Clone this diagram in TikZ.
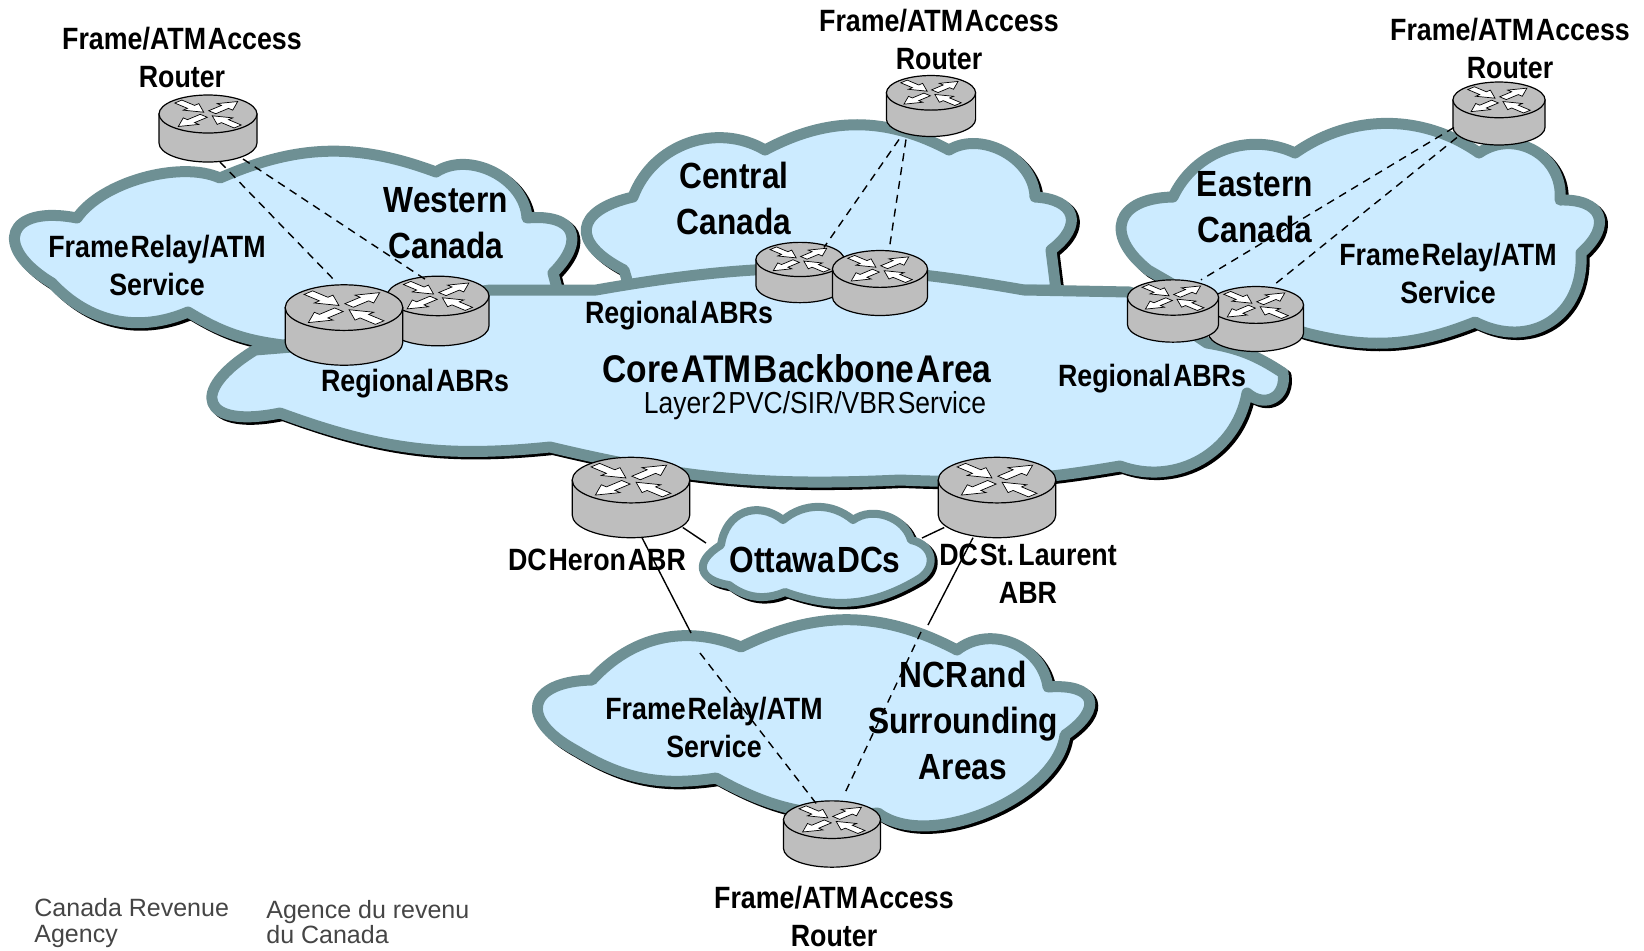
\documentclass[tikz,border=0pt]{standalone}
\usepackage{fontspec}
\setmainfont{Liberation Sans}
\setsansfont{Liberation Sans}
\newfontfamily\labelfont[FakeStretch=0.87,WordSpace=0.25]{Liberation Sans}
\definecolor{cloudfill}{HTML}{CCEBFF}
\definecolor{cloudedge}{HTML}{6E9094}
\definecolor{routergray}{HTML}{BEBEBE}
\definecolor{footgray}{HTML}{454545}

\tikzset{
  cloudshadow/.style = {draw=black, line join=round, shift={(3,2.5)}},
  cloudbody/.style = {draw=cloudedge, fill=cloudfill, line join=round},
  routerbox/.style = {inner sep=0pt, outer sep=0pt},
  routerline/.style = {draw=black, line width=.6pt},
  smalltext/.style = {font=\labelfont\bfseries\fontsize{15.4}{19}\selectfont, align=center, inner sep=0pt},
  bigtext/.style = {font=\labelfont\bfseries\fontsize{18.2}{23}\selectfont, align=center, inner sep=0pt},
  foottext/.style = {font=\fontsize{12.5}{12.6}\selectfont, text=footgray, align=left, anchor=west, inner sep=0pt},
  dashlink/.style = {draw=black, dashed, dash pattern=on 4pt off 3pt, line width=.7pt},
  solidlink/.style = {draw=black, line width=.7pt},
  routerface/.pic = {
    \path[routerline, fill=routergray] (-49,-14.5) -- (-49,14.5) arc[start angle=180, end angle=0, x radius=49, y radius=19] -- (49,-14.5) -- cycle;
    \path[routerline, fill=routergray] (0,-14.5) ellipse[x radius=49, y radius=19];
    \foreach \a in {45,-135} {
      \draw[fill=white, line width=.35pt, shift={(0,-14.5)}, yscale=.42, rotate=\a]
        (6,-5) -- (24,-5) -- (24,-11) -- (42,0) -- (24,11) -- (24,5) -- (6,5) -- cycle;
    }
    \foreach \a in {-45,135} {
      \draw[fill=white, line width=.35pt, shift={(0,-14.5)}, yscale=.42, rotate=\a]
        (42,-5) -- (24,-5) -- (24,-11) -- (6,0) -- (24,11) -- (24,5) -- (42,5) -- cycle;
    }
  }
}

% #1 width of the edge, #2 first point, #3 the next points as x/y/bend/looseness
\newcommand{\cloudblob}[3][5.5pt]{
  \path[cloudshadow, line width=#1] (#2) \foreach \x/\y/\b/\l in {#3} { to[bend left=\b, looseness=\l] (\x,\y) } -- cycle;
  \path[cloudbody, line width=#1] (#2) \foreach \x/\y/\b/\l in {#3} { to[bend left=\b, looseness=\l] (\x,\y) } -- cycle;
}
% #1 name, #2 x, #3 y, #4 size
\newcommand{\router}[4]{
  \node[routerbox, minimum width=#4*49pt, minimum height=#4*33.5pt] (#1) at (#2,#3) {};
  \pic[scale=#4] at (#1) {routerface};
}

\begin{document}
\begin{tikzpicture}[x=.5pt, y=-.5pt]
  \useasboundingbox (0,0) rectangle (1644,950);

  % regions
  \cloudblob{77,218}{220/178/40/.75, 436/172/22/1, 527/218/60/1, 553/273/70/2, 560/300/0/1, 283/345/0/1, 188/312/12/1, 52/283/35/1, 77/218/80/2.6}
  \cloudblob{633,197}{765/150/50/1.03, 949/150/28/1, 1035/197/60/1, 1051/250/70/1.9, 1056/290/0/1, 630/290/0/1, 624/270/0/1, 633/197/70/2.1}
  \cloudblob{1173,197}{1295/153/45/1, 1479/153/35/.96, 1560/200/65/1.2, 1581/253/70/1.9, 1475/322/60/1.27, 1306/333/18/1, 1200/300/0/1, 1148/270/0/1, 1173/197/70/1.9}
  \cloudblob{292,347}{490/290/8/1, 596/290/0/1, 1024/290/10/1, 1130/292/0/1, 1207/343/0/1, 1283/373/12/1, 1247/393/70/1.5, 1120/466/50/1.05, 900/480/6/1, 550/447/8/1, 280/413/13/1, 255/350/80/3, 292/347/0/1}
  \cloudblob{592,680}{741/647/35/1, 957/650/27/1, 1048/687/60/1.1, 1065/735/75/2.4, 878/813/60/.8, 716/778/17/1, 575/750/20/1, 592/680/75/2.3}
  \cloudblob[4pt]{721,545}{783/520/60/1.27, 853/520/40/1, 911/540/55/1, 917/580/70/1.5, 785/592/25/1, 729/585/30/1, 721/545/70/2}

  % routers
  \router{accwest}{208}{128.5}{1}
  \router{abrwestb}{438}{311}{1.04}
  \router{abrwesta}{344}{325}{1.2}
  \router{acccent}{931}{106}{.91}
  \router{abrcenta}{800}{272.5}{.9}
  \router{abrcentb}{880}{283}{.97}
  \router{acceast}{1499}{113.5}{.94}
  \router{abreastb}{1256}{319}{.97}
  \router{abreasta}{1173}{311}{.93}
  \router{dcheron}{631}{497.5}{1.2}
  \router{dclaurent}{997}{497.5}{1.2}
  \router{accncr}{832}{834}{.99}

  % free ends on the cloud edges
  \coordinate (ottwest) at (706,543);
  \coordinate (otteast) at (922,538);
  \coordinate (ncrwest) at (691,633);
  \coordinate (ncrwestin) at (700,653);
  \coordinate (ncreast) at (928,625);
  \coordinate (ncreastin) at (921,632);

  % links
  \draw[dashlink] ([xshift=6pt]accwest.south) -- ([xshift=-5.5pt,yshift=3pt]abrwesta.north);
  \draw[dashlink] ([xshift=17.5pt,yshift=1.5pt]accwest.south) -- ([xshift=-6.5pt,yshift=-1.5pt]abrwestb.north);
  \draw[dashlink] ([xshift=-16pt,yshift=-1.5pt]acccent.south) -- ([xshift=12pt,yshift=-2.5pt]abrcenta.north);
  \draw[dashlink] ([xshift=-12.5pt,yshift=-1.5pt]acccent.south) -- ([xshift=4.5pt]abrcentb.north);
  \draw[dashlink] ([xshift=.5pt,yshift=-7pt]acceast.west) -- ([xshift=14pt]abreasta.north);
  \draw[dashlink] ([xshift=2pt,yshift=-12pt]acceast.west) -- ([xshift=8pt]abreastb.north);
  \draw[solidlink] ([xshift=-3.5pt,yshift=-15pt]dcheron.east) -- (ottwest);
  \draw[solidlink] ([xshift=3pt,yshift=-15pt]dclaurent.west) -- (otteast);
  \draw[solidlink] ([xshift=5.5pt]dcheron.south) -- (ncrwest);
  \draw[solidlink] ([xshift=-12pt]dclaurent.south) -- (ncreast);
  \draw[dashlink] (ncrwestin) -- ([xshift=-7pt,yshift=-2.5pt]accncr.north);
  \draw[dashlink] (ncreastin) -- ([xshift=6.5pt,yshift=4pt]accncr.north);

  % labels
  \node[smalltext] (lblwest) at (182,57) {Frame/ATM Access\\Router};
  \node[smalltext] (lblcent) at (939,39) {Frame/ATM Access\\Router};
  \node[smalltext] (lbleast) at (1510,48) {Frame/ATM Access\\Router};
  \node[smalltext] (lblncr) at (834,916) {Frame/ATM Access\\Router};
  \node[smalltext] (svcwest) at (157,265) {Frame Relay/ATM\\Service};
  \node[smalltext] (svceast) at (1448,273) {Frame Relay/ATM\\Service};
  \node[smalltext] (svcncr) at (714,727) {Frame Relay/ATM\\Service};
  \node[smalltext] (regwest) at (415,384) {Regional ABRs};
  \node[smalltext] (regcent) at (679,316) {Regional ABRs};
  \node[smalltext] (regeast) at (1152,379) {Regional ABRs};
  \node[smalltext] (lblheron) at (597,560) {DC Heron ABR};
  \node[smalltext] (lbllaurent) at (1028,574) {DC St. Laurent\\ABR};
  \node[bigtext] (areawest) at (446,223) {Western\\Canada};
  \node[bigtext] (areacent) at (734,198) {Central\\Canada};
  \node[bigtext] (areaeast) at (1255,207) {Eastern\\Canada};
  \node[bigtext] (areancr) at (963,720) {NCR and\\Surrounding\\Areas};
  \node[bigtext] (ottawa) at (815,560) {Ottawa DCs};
  \node[bigtext, font=\labelfont\bfseries\fontsize{19.3}{23}\selectfont] (core) at (797,369) {Core ATM Backbone Area};
  \node[inner sep=0pt, font=\labelfont\fontsize{15.2}{18}\selectfont] (layer) at (815,406) {Layer 2 PVC/SIR/VBR Service};
  \node[foottext] (footen) at (34,923) {Canada Revenue\\Agency};
  \node[foottext] (footfr) at (266,922) {Agence du revenu\\du Canada};
\end{tikzpicture}
\end{document}
